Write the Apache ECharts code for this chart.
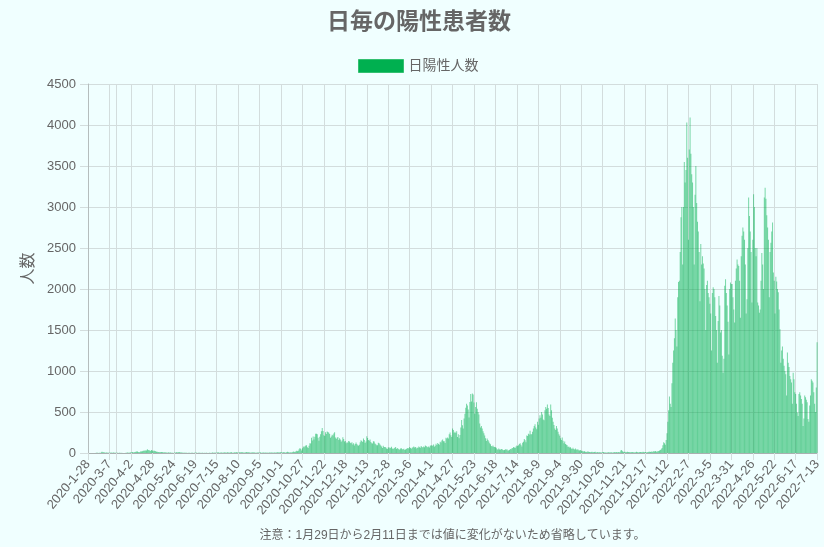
<!DOCTYPE html>
<html><head><meta charset="utf-8">
<script src="https://cdn.jsdelivr.net/npm/echarts@6/dist/echarts.min.js"></script>
<style>html,body{margin:0;padding:0;background:#f0ffff;}#c{width:824px;height:547px;}</style>
</head><body><div id="c"></div>
<script>
// ---- data (daily positive cases) ----
const titleText = '日毎の陽性患者数';
const seriesName = '日陽性人数';
const yAxisName = '人数';
const noteText = '注意：1月29日から2月11日までは値に変化がないため省略しています。';
const firstDate = '2020-1-28';
const rangeStart = [2020, 2, 11];
const rangeEnd = [2022, 7, 13];

const m2020_01 = [1];
const m2020_02 = [0,0,0,1,0,0,0,0,1,2,3,2,1,3,1,8,15,10,9];
const m2020_03 = [5,4,7,6,4,2,3,4,6,3,3,6,3,2,2,2,4,1,2,3,1,2,1,0,0,1,4,2,5,2,4];
const m2020_04 = [6,8,7,11,5,9,11,15,17,18,13,10,11,21,18,21,27,26,32,29,31,46,38,35,29,23,37,30,22,31];
const m2020_05 = [24,20,14,16,11,12,8,10,12,11,8,6,9,7,6,4,5,8,4,5,3,4,2,1,6,3,8,11,3,13,10];
const m2020_06 = [6,7,5,4,4,3,3,4,2,1,2,3,1,4,4,2,1,3,2,5,3,1,2,3,2,1,2,4,1,2];
const m2020_07 = [1,3,2,1,0,4,2,1,4,6,3,2,5,3,3,6,8,4,2,7,6,2,4,8,6,5,2,9,7,6,4];
const m2020_08 = [8,10,4,3,5,9,7,10,8,3,4,11,7,8,10,9,4,5,6,11,10,8,9,5,4,7,6,9,6,5,4];
const m2020_09 = [3,6,5,7,4,8,4,2,6,5,4,7,3,5,2,4,6,3,8,2,5,3,7,6,4,8,10,6,5,9];
const m2020_10 = [12,7,6,10,9,7,4,11,15,8,6,5,10,7,9,17,12,15,18,26,20,28,45,60,50,32,58,80,70,82,90];
const m2020_11 = [96,70,60,88,119,115,187,153,200,166,197,236,235,230,187,150,197,229,266,304,269,216,206,253,233,263,257,246,233,186];
const m2020_12 = [201,223,214,237,254,190,170,187,194,159,180,166,138,152,192,170,140,147,118,132,125,147,140,125,118,130,104,120,92,110,128];
const m2021_01 = [110,95,88,101,132,155,145,133,177,160,123,141,205,182,158,150,164,135,120,117,144,139,116,108,93,96,126,118,105,90,80];
const m2021_02 = [62,88,74,72,69,56,50,66,71,58,63,75,54,48,57,64,72,49,60,51,45,40,55,58,47,46,52,38];
const m2021_03 = [44,48,57,62,55,72,60,52,63,71,80,66,74,55,68,62,79,70,64,86,73,67,80,69,92,84,75,70,78,66,89];
const m2021_04 = [96,91,87,103,76,88,114,97,123,110,100,136,128,152,165,143,142,121,186,177,189,176,230,250,215,195,299,279,247,260];
const m2021_05 = [243,265,196,228,180,220,310,403,339,300,420,479,551,600,580,530,432,623,719,629,727,713,615,480,560,620,540,500,470,360,310];
const m2021_06 = [330,300,265,240,214,180,145,177,158,140,120,108,85,80,92,77,74,70,63,45,39,54,44,40,49,50,38,33,36,46];
const m2021_07 = [39,45,32,29,36,50,47,58,60,73,68,61,80,92,85,94,110,118,101,80,125,138,170,154,130,212,206,236,225,270,230];
const m2021_08 = [230,260,300,330,350,310,290,380,345,420,460,430,500,470,410,400,520,560,540,590,550,470,450,590,520,430,380,340,300,280,330];
const m2021_09 = [300,260,230,210,180,160,190,150,120,140,110,100,95,74,80,66,70,56,50,63,48,42,55,44,40,47,35,30,36,28];
const m2021_10 = [27,22,18,20,15,12,16,19,14,11,9,13,15,8,10,12,14,7,9,11,6,8,10,5,7,9,12,6,8,4,7];
const m2021_11 = [5,8,6,9,7,10,4,6,12,8,9,11,6,13,10,8,30,38,22,15,12,14,10,9,16,11,13,8,10,9];
const m2021_12 = [12,8,10,7,9,14,11,6,9,13,12,8,10,15,11,9,12,7,10,13,16,14,12,17,11,19,21,18,24,16,19];
const m2022_01 = [22,25,30,38,45,60,95,130,120,100,160,240,380,520,690,600,560,850,1100,1250,1400,1640,1500,1300,1900,2085,2100,2450,2875,3000,2300];
const m2022_02 = [3000,3550,3300,3450,4030,3600,2600,3700,4090,3650,3400,3300,3000,2300,3150,3500,3050,2820,2700,2450,1850,2550,2300,2400,2310,2250,2000,1500];
const m2022_03 = [2050,2100,1950,1900,1820,1700,1250,1950,2020,2000,1900,1670,1500,1100,1610,1916,1800,1470,1500,1185,980,1150,2040,2120,1950,1800,1600,1200,2000,2080,2060];
const m2022_04 = [2060,1900,1750,1590,2100,2250,2360,2300,2280,2100,1650,2400,2650,2750,2700,2600,2300,1700,1875,2500,3115,2890,2700,2450,1835,2600,3155,3000,2500,2400];
const m2022_05 = [2500,1835,1800,1710,1750,2100,2440,2300,2000,3115,3235,3100,2900,2750,2600,1900,2450,2565,2700,2810,2200,2100,1700,2150,2090,2000,1960,1750,1510,1100,1250];
const m2022_06 = [1300,1150,1065,1000,960,700,1225,1100,1050,940,900,860,600,980,900,740,720,600,495,450,720,740,700,660,600,330,420,700,680,650];
const m2022_07 = [620,415,380,580,700,900,880,860,740,600,500,800,1350];

const values = [].concat(
  m2020_01, m2020_02, m2020_03, m2020_04, m2020_05, m2020_06, m2020_07, m2020_08, m2020_09, m2020_10, m2020_11, m2020_12,
  m2021_01, m2021_02, m2021_03, m2021_04, m2021_05, m2021_06, m2021_07, m2021_08, m2021_09, m2021_10, m2021_11, m2021_12,
  m2022_01, m2022_02, m2022_03, m2022_04, m2022_05, m2022_06, m2022_07
);

// categories: first date, then every day in the range (dates 1/29–2/10 omitted)
const categories = [firstDate];
(function () {
  let d = Date.UTC(rangeStart[0], rangeStart[1] - 1, rangeStart[2]);
  const end = Date.UTC(rangeEnd[0], rangeEnd[1] - 1, rangeEnd[2]);
  while (d <= end) {
    const dt = new Date(d);
    categories.push(dt.getUTCFullYear() + '-' + (dt.getUTCMonth() + 1) + '-' + dt.getUTCDate());
    d += 86400000;
  }
})();

const labelStep = 26;
const extraGridIndex = 34;
const gridInterval = function (i) { return i % labelStep === 0 || i === extraGridIndex; };

const FONT = '"Liberation Sans", Arial, "Noto Sans CJK JP", sans-serif';
const chart = echarts.init(document.getElementById('c'), null, { renderer: 'canvas' });
chart.setOption({
  backgroundColor: '#f0ffff',
  animation: false,
  textStyle: { fontFamily: FONT },
  title: {
    text: titleText, left: 327, top: 11, padding: 0,
    textStyle: { fontSize: 23, fontWeight: 'bold', color: '#666', fontFamily: FONT }
  },
  legend: {
    top: 54, left: 353, itemWidth: 45, itemHeight: 13,
    textStyle: { fontSize: 14, color: '#666', fontFamily: FONT },
    data: [{ name: seriesName, icon: 'rect', itemStyle: { color: '#00b050', borderColor: '#33c070', borderWidth: 1 } }]
  },
  grid: { left: 88, right: 6, top: 84, bottom: 93, containLabel: false },
  xAxis: {
    type: 'category', data: categories, boundaryGap: false,
    name: noteText, nameLocation: 'middle', nameGap: 77,
    nameTextStyle: { fontSize: 12, color: '#666', fontFamily: FONT },
    axisLine: { lineStyle: { color: '#a9b0b0', width: 1 } },
    axisTick: { show: true, length: 7, interval: gridInterval, lineStyle: { color: '#d3dddd' } },
    axisLabel: { interval: labelStep - 1, rotate: 50, margin: 9, fontSize: 13, color: '#666', fontFamily: FONT },
    splitLine: { show: true, interval: gridInterval, lineStyle: { color: '#d3dddd', width: 1 } }
  },
  yAxis: {
    type: 'value', min: 0, max: 4500, interval: 500,
    name: yAxisName, nameLocation: 'middle', nameRotate: 90, nameGap: 50,
    nameTextStyle: { fontSize: 16, color: '#666', fontFamily: FONT },
    axisLine: { show: true, lineStyle: { color: '#b5bdbd' } },
    axisTick: { show: true, length: 8, lineStyle: { color: '#d3dddd' } },
    axisLabel: { fontSize: 13, color: '#666', margin: 12, fontFamily: FONT, formatter: function (v) { return String(v); } },
    splitLine: { show: true, lineStyle: { color: '#d3dddd' } }
  },
  series: [{
    type: 'bar', name: seriesName, data: values,
    barCategoryGap: '0%', large: false,
    itemStyle: { color: 'rgba(0,176,80,0.5)' }
  }]
});
</script></body></html>
